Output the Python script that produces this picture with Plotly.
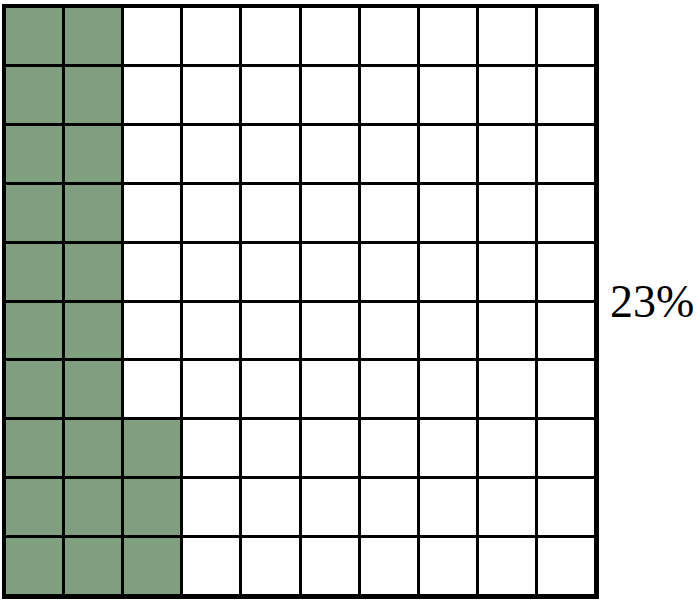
import plotly.graph_objects as go

percent = 23
n_rows = 10
n_cols = 10
fill_color = "#7F9F7F"
label = f"{percent}%"

# Fill order: column by column from the left, bottom to top inside each column
z = [[0] * n_cols for _ in range(n_rows)]  # row 0 = bottom
for k in range(percent):
    col = k // n_rows
    row = k % n_rows
    z[row][col] = 1

xs = [c + 0.5 for c in range(n_cols)]
ys = [r + 0.5 for r in range(n_rows)]

fig = go.Figure(
    go.Heatmap(
        x=xs, y=ys, z=z,
        zmin=0, zmax=1,
        colorscale=[[0, "#FFFFFF"], [1, fill_color]],
        showscale=False,
        xgap=3, ygap=3,
        hoverinfo="skip",
    )
)

axis_common = dict(
    range=[0, 10], showgrid=False, zeroline=False, showticklabels=False,
    ticks="", showline=True, linecolor="black", linewidth=3, mirror=True,
    fixedrange=True,
)
fig.update_xaxes(**axis_common)
fig.update_yaxes(**axis_common)

fig.add_annotation(
    text=label, xref="paper", yref="paper", x=1, y=0.5,
    xanchor="left", yanchor="middle", xshift=12, showarrow=False,
    font=dict(family="Liberation Serif", size=46, color="black"),
)

fig.update_layout(
    width=700, height=600,
    margin=dict(l=5, r=104, t=4, b=4),
    plot_bgcolor="black", paper_bgcolor="white",
    showlegend=False,
)

fig.write_html(
    "out.html",
    config={"displayModeBar": False},
    post_script="document.body.style.margin='0';document.body.style.overflow='hidden';",
)
